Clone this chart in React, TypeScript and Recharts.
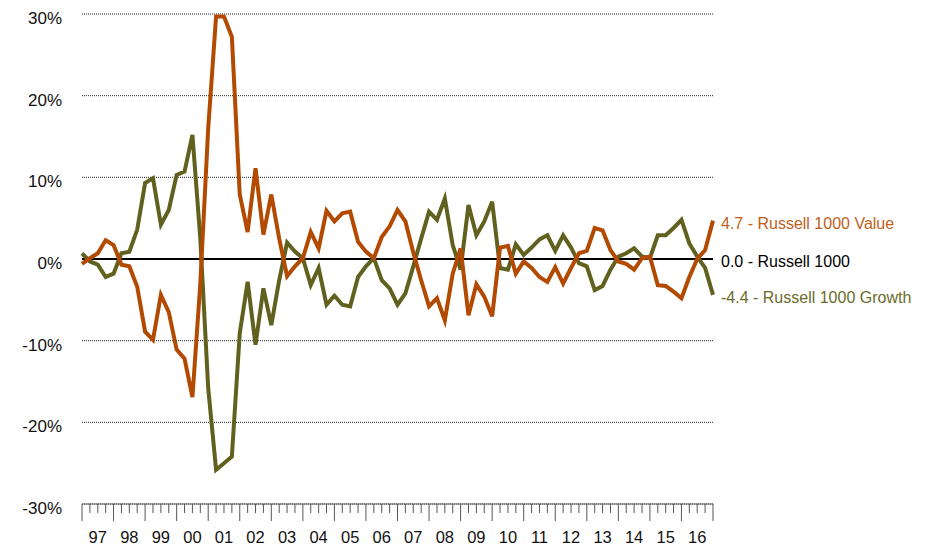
import { LineChart, Line, XAxis, YAxis, CartesianGrid, ReferenceLine, LabelList } from 'recharts';

// year labels sit in the middle of each year on the quarterly axis
const years = ['97', '98', '99', '00', '01', '02', '03', '04', '05', '06', '07', '08', '09', '10', '11', '12', '13', '14', '15', '16'];

// rolling relative returns vs Russell 1000, one point per quarter (Q4 96 .. Q4 16)
const valueSeries = [
  -0.6, 0.1, 0.7, 2.3, 1.7, -0.7, -0.9, -3.4, -8.9, -9.9,
  -4.4, -6.5, -11.1, -12.2, -16.9, -3.0, 16.0, 29.7, 29.7, 27.2,
  7.9, 3.3, 11.1, 3.0, 7.9, 2.5, -2.1, -0.9, 0.1, 3.3,
  1.3, 5.9, 4.6, 5.6, 5.8, 2.1, 0.9, 0.1, 2.7, 4.0,
  6.0, 4.6, 0.8, -2.6, -5.8, -4.8, -7.5, -1.8, 1.3, -6.9,
  -3.1, -4.6, -7.0, 1.4, 1.6, -1.8, -0.3, -1.1, -2.2, -2.8,
  -1.0, -3.0, -1.1, 0.7, 1.0, 3.8, 3.5, 1.1, -0.3, -0.6,
  -1.3, 0.1, 0.3, -3.2, -3.3, -4.0, -4.8, -2.2, 0.0, 1.1,
  4.7,
];

const growthSeries = [
  0.7, -0.3, -0.7, -2.2, -1.8, 0.7, 0.9, 3.6, 9.3, 9.9,
  4.2, 6.0, 10.3, 10.7, 15.2, 2.5, -15.8, -25.8, -25.0, -24.2,
  -9.1, -2.8, -10.5, -3.6, -8.1, -2.6, 2.0, 0.9, 0.1, -3.2,
  -1.1, -5.6, -4.5, -5.6, -5.8, -2.2, -0.9, 0.1, -2.6, -3.6,
  -5.6, -4.2, -0.9, 2.5, 5.8, 4.8, 7.4, 1.7, -1.3, 6.6,
  2.9, 4.6, 7.0, -1.1, -1.3, 1.8, 0.5, 1.4, 2.4, 2.9,
  1.0, 2.9, 1.4, -0.5, -0.9, -3.8, -3.3, -1.3, 0.3, 0.7,
  1.3, 0.3, 0.1, 2.9, 2.9, 3.8, 4.8, 1.9, 0.3, -1.1,
  -4.4,
];

const percentTicks = [-30, -20, -10, 0, 10, 20, 30];

const VALUE_COLOR = '#b34a02';
const GROWTH_COLOR = '#61611f';
const FONT = '"Liberation Sans", Arial, sans-serif';

const data = valueSeries.map((v, i) => ({ q: i, value: v, growth: growthSeries[i] }));
const quarterTicks = data.map((d) => d.q);
const lastIndex = data.length - 1;

const QuarterTick = ({ x, y, payload }: any) => {
  const q = payload.value;
  const major = q % 4 === 0;
  const label = q % 4 === 2 ? years[(q - 2) / 4] : null;
  return (
    <g>
      <line x1={x} x2={x} y1={y} y2={y + (major ? 17 : 9)} stroke="#555" strokeWidth={1} />
      {label && (
        <text x={x} y={y + 39} textAnchor="middle" fontSize={16.5} fill="#111">
          {label}
        </text>
      )}
    </g>
  );
};

const PercentTick = ({ x, y, payload }: any) => (
  <text x={x} y={y + 4} dy="0.355em" textAnchor="end" fontSize={17} fill="#111">
    {payload.value}%
  </text>
);

const endLabel = (name: string, color: string) => (props: any) => {
  const { x, y, index, value } = props;
  if (index !== lastIndex) return null;
  return (
    <text x={x + 8} y={y + 2.5} dy="0.355em" fill={color} fontSize={16}>
      {`${Number(value).toFixed(1)} - ${name}`}
    </text>
  );
};

const zeroLabel = (props: any) => {
  const { x, y, width } = props.viewBox;
  return (
    <text x={x + width + 8} y={y + 2.5} dy="0.355em" fill="#000" fontSize={16}>
      0.0 - Russell 1000
    </text>
  );
};

export default function App() {
  return (
    <div style={{ position: 'absolute', left: 0, top: 0 }}>
      <LineChart
        width={926}
        height={549}
        data={data}
        margin={{ top: 14, right: 213, bottom: 0, left: 0 }}
        style={{ fontFamily: FONT }}
      >
        <CartesianGrid vertical={false} stroke="#222" strokeDasharray="1 1" />
        <XAxis
          dataKey="q"
          type="number"
          domain={[0, 80]}
          ticks={quarterTicks}
          interval={0}
          height={45}
          tickSize={0}
          tickMargin={0}
          tickLine={false}
          axisLine={{ stroke: '#666' }}
          tick={<QuarterTick />}
        />
        <YAxis
          type="number"
          domain={[-30, 30]}
          ticks={percentTicks}
          allowDataOverflow
          width={82}
          tickSize={0}
          tickMargin={20}
          axisLine={false}
          tickLine={false}
          tick={<PercentTick />}
        />
        <ReferenceLine y={0} stroke="#000" strokeWidth={2} label={zeroLabel} />
        <Line
          type="linear"
          dataKey="growth"
          stroke={GROWTH_COLOR}
          strokeWidth={4}
          dot={false}
          isAnimationActive={false}
        >
          <LabelList dataKey="growth" content={endLabel('Russell 1000 Growth', '#6b6b2a')} />
        </Line>
        <Line
          type="linear"
          dataKey="value"
          stroke={VALUE_COLOR}
          strokeWidth={4}
          dot={false}
          isAnimationActive={false}
        >
          <LabelList dataKey="value" content={endLabel('Russell 1000 Value', '#c0601a')} />
        </Line>
      </LineChart>
    </div>
  );
}
